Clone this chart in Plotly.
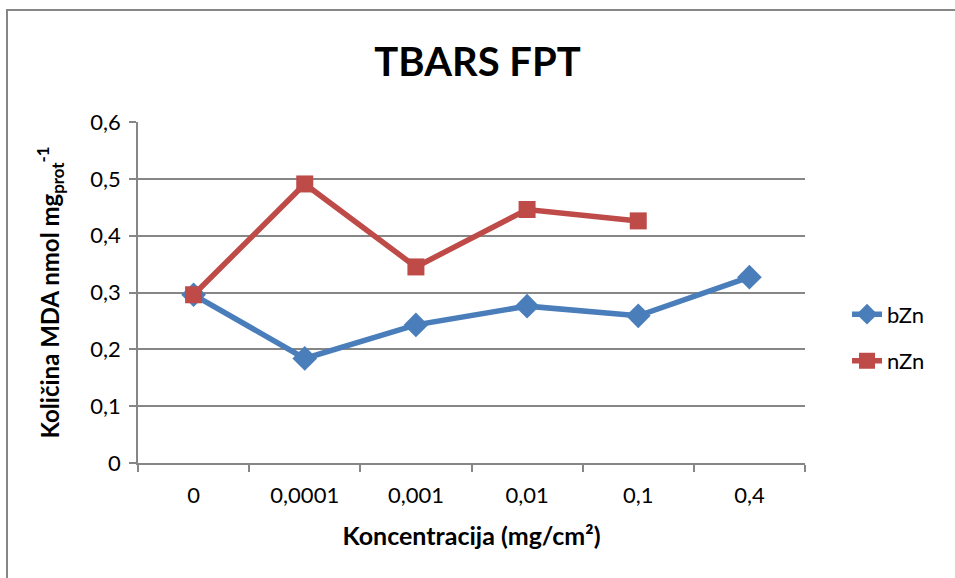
import plotly.graph_objects as go

categories = ["0", "0,0001", "0,001", "0,01", "0,1", "0,4"]
bzn_values = [0.296, 0.184, 0.243, 0.276, 0.259, 0.327]
nzn_values = [0.296, 0.491, 0.345, 0.446, 0.426, None]
y_ticks = [0, 0.1, 0.2, 0.3, 0.4, 0.5, 0.6]
y_tick_labels = ["0", "0,1", "0,2", "0,3", "0,4", "0,5", "0,6"]

FONT = "Lato"
GRID = "#868686"

fig = go.Figure()
fig.add_trace(go.Scatter(
    x=categories, y=bzn_values, name="bZn", mode="lines+markers",
    line=dict(color="#4A7EBB", width=5.5),
    marker=dict(symbol="diamond", size=19, color="#4A7EBB"),
    legendgroup="b",
))
fig.add_trace(go.Scatter(
    x=categories, y=nzn_values, name="nZn", mode="lines+markers",
    line=dict(color="#BE4B48", width=5.5),
    marker=dict(symbol="square", size=17, color="#BE4B48"),
    legendgroup="n",
))

fig.update_layout(
    width=955, height=578,
    margin=dict(l=138, r=150, t=122, b=115),
    paper_bgcolor="white", plot_bgcolor="white",
    font=dict(family=FONT, size=22, color="black"),
    title=dict(text="<b>TBARS FPT</b>", x=0.5, xanchor="center",
               y=1 - 62 / 578, yanchor="middle",
               font=dict(family=FONT, size=40, color="black")),
    showlegend=True,
    legend=dict(x=1.063, xanchor="left", y=0.367, yanchor="middle",
                font=dict(family=FONT, size=22, color="black"),
                tracegroupgap=15, bgcolor="rgba(0,0,0,0)"),
    xaxis=dict(
        type="category", categoryorder="array", categoryarray=categories,
        range=[-0.5, 5.5], showgrid=False, showline=True, linecolor=GRID, linewidth=1.5,
        ticks="outside", tickson="boundaries", ticklen=7, tickcolor=GRID, tickwidth=1.5,
        tickfont=dict(family=FONT, size=22), ticklabelstandoff=12,
        title=dict(text="<b>Koncentracija (mg/cm²)</b>", standoff=20,
                   font=dict(family=FONT, size=25)),
    ),
    yaxis=dict(
        range=[0, 0.6], tickvals=y_ticks, ticktext=y_tick_labels,
        showgrid=True, gridcolor=GRID, gridwidth=1.5,
        showline=True, linecolor=GRID, linewidth=1.5,
        ticks="outside", ticklen=7, tickcolor=GRID, tickwidth=1.5,
        tickfont=dict(family=FONT, size=22), zeroline=False, ticklabelstandoff=4,
        title=dict(text="<b>Količina MDA nmol mg<sub>prot</sub><sup>-1</sup></b>",
                   standoff=24, font=dict(family=FONT, size=24)),
    ),
    shapes=[dict(type="rect", xref="paper", yref="paper",
                 x0=(7 - 138) / 667, x1=1.5, y0=-0.5, y1=(463 - 10) / 341,
                 line=dict(color=GRID, width=2), fillcolor="rgba(0,0,0,0)", layer="below")],
)

fig.write_html("out.html", config={"displayModeBar": False},
               post_script="document.body.style.margin='0px';document.body.style.overflow='hidden';")
